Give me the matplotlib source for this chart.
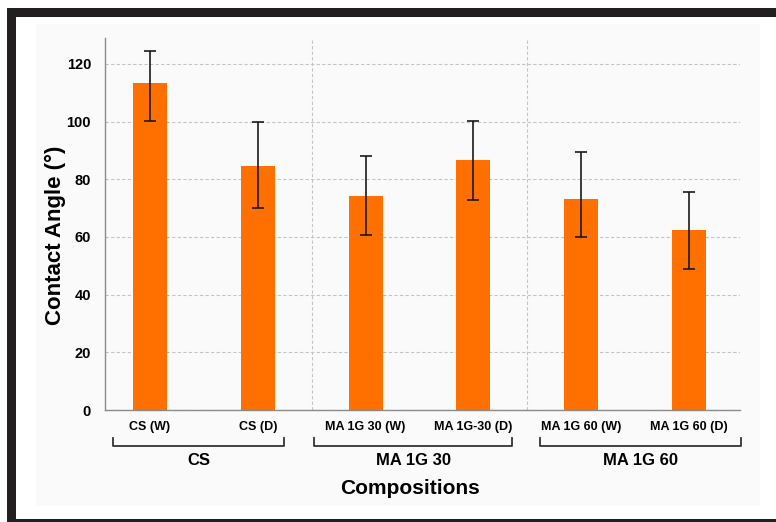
import matplotlib.pyplot as plt
from matplotlib.patches import Rectangle
import matplotlib.transforms as mtransforms

# data
categories = ['CS (W)', 'CS (D)', 'MA 1G 30 (W)', 'MA 1G-30 (D)', 'MA 1G 60 (W)', 'MA 1G 60 (D)']
contact_angle = [113.5, 84.7, 74.3, 86.8, 73.3, 62.5]
err_low = [13.3, 14.7, 13.6, 14.1, 13.3, 13.5]
err_high = [11.0, 15.3, 13.8, 13.4, 16.2, 13.1]
groups = ['CS', 'MA 1G 30', 'MA 1G 60']

W, H = 776, 522
plt.rcParams['font.family'] = ['Liberation Sans', 'DejaVu Sans']
plt.rcParams['font.weight'] = 'bold'

fig = plt.figure(figsize=(W / 100, H / 100), dpi=100, facecolor='white')


def px(x0, y0, w, h):
    # pixel box (top-left origin) -> figure fraction
    return (x0 / W, 1 - (y0 + h) / H, w / W, h / H)


# dark frame and faint inner panel
frame = '#231f20'
for box in [(7, 8, 769, 9), (7, 8, 9, 514), (7, 519, 769, 3)]:
    r = px(*box)
    fig.add_artist(Rectangle(r[:2], r[2], r[3], transform=fig.transFigure,
                             color=frame, lw=0))
b = px(36, 24, 724, 482)
fig.add_artist(Rectangle(b[:2], b[2], b[3], transform=fig.transFigure,
                         color='#fafafa', lw=0, zorder=0))

ax = fig.add_axes(px(105, 38, 635, 372))
ax.set_facecolor('none')

pos = list(range(len(categories)))
ax.bar(pos, contact_angle, width=0.315, color='#ff7000', zorder=3)
ax.errorbar(pos, contact_angle, yerr=[err_low, err_high], fmt='none',
            ecolor='#1a1a1a', elinewidth=1.2, capsize=4, capthick=1.2, zorder=4)

ax.set_xlim(-0.417, 5.473)
ax.set_ylim(0, 129)
ax.set_yticks(range(0, 121, 20))
ax.set_xticks([])
ax.tick_params(axis='y', length=0, pad=10, labelsize=10.5)
for lab in ax.get_yticklabels():
    lab.set_fontweight('bold')

ax.yaxis.grid(True, linestyle=(0, (3, 2)), color='#c4c4c4', lw=0.8, zorder=0)
for xs in (1.5, 3.5):
    ax.axvline(xs, linestyle=(0, (3, 2)), color='#c4c4c4', lw=0.8, zorder=0)

for s in ('top', 'right'):
    ax.spines[s].set_visible(False)
for s in ('left', 'bottom'):
    ax.spines[s].set_color('#8a8a8a')
    ax.spines[s].set_linewidth(1.0)

ax.set_ylabel('Contact Angle (°)', fontsize=16, fontweight='bold')
ax.yaxis.set_label_coords(-0.061, 0.47)

trans = mtransforms.blended_transform_factory(ax.transData, ax.transAxes)
for p, c in zip(pos, categories):
    ax.text(p, -0.046, c, transform=trans, ha='center', va='center',
            fontsize=9, fontweight='bold', clip_on=False)

# group brackets
spans = [(-0.34, 1.24), (1.52, 3.36), (3.62, 5.48)]
for (lo, hi), g in zip(spans, groups):
    ax.plot([lo, lo, hi, hi], [-0.075, -0.097, -0.097, -0.075], transform=trans,
            color='#333333', lw=1.3, clip_on=False)
    ax.text((lo + hi) / 2, -0.137, g, transform=trans, ha='center', va='center',
            fontsize=12, fontweight='bold', clip_on=False)

ax.text(0.48, -0.21, 'Compositions', transform=ax.transAxes, ha='center',
        va='center', fontsize=15, fontweight='bold')

fig.savefig('out.png', dpi=100)
